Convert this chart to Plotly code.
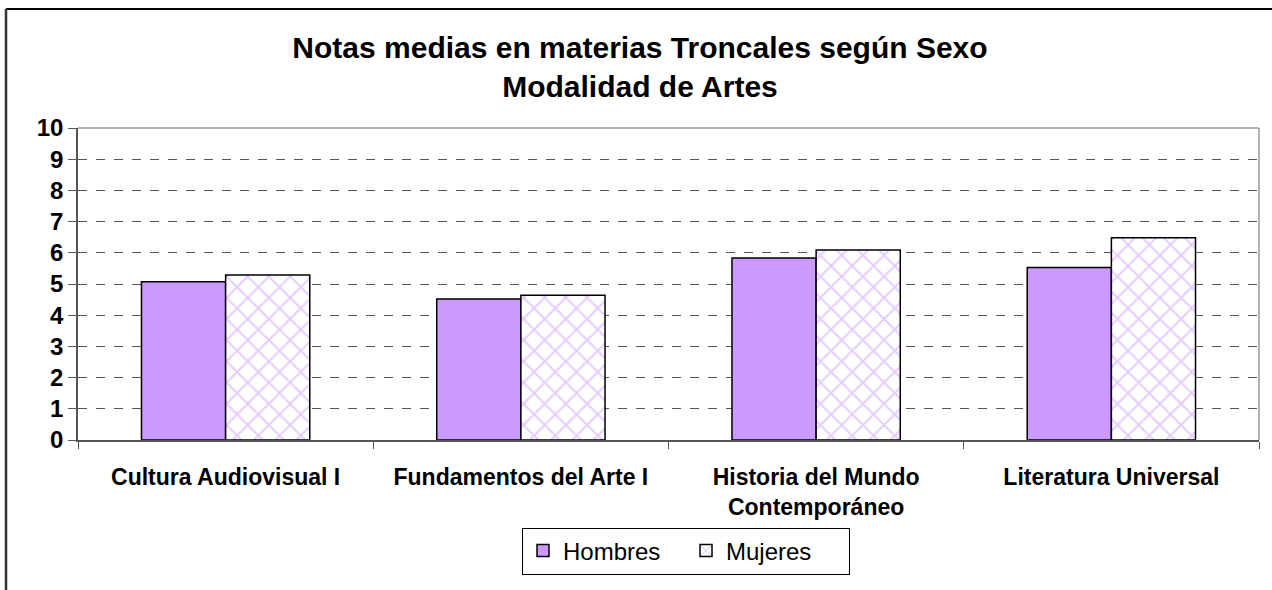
import plotly.graph_objects as go

categories = ["Cultura Audiovisual I", "Fundamentos del Arte I",
              "Historia del Mundo<br>Contemporáneo", "Literatura Universal"]
hombres = [5.07, 4.52, 5.83, 5.53]
mujeres = [5.29, 4.64, 6.09, 6.48]
y_ticks = list(range(0, 11))

W, H = 1272, 590
L, R, T, B = 78, 1259, 128, 440   # plot area in pixels
pw, ph = R - L, B - T

def px_x(v):
    return (v - L) / pw

def px_y(v):
    return (B - v) / ph

purple = "#CC99FF"
font_family = "Liberation Sans, Arial, sans-serif"

fig = go.Figure()
fig.add_trace(go.Bar(
    name="Hombres", x=categories, y=hombres,
    marker=dict(color=purple, line=dict(color="black", width=1.5)),
))
fig.add_trace(go.Bar(
    name="Mujeres", x=categories, y=mujeres,
    marker=dict(color="white", line=dict(color="black", width=1.5),
                pattern=dict(shape="x", fgcolor=purple, bgcolor="white",
                             size=15, solidity=0.25)),
))

fig.update_layout(
    width=W, height=H,
    margin=dict(l=L, r=W - R, t=T, b=H - B, pad=0),
    paper_bgcolor="white", plot_bgcolor="white",
    barmode="group", bargap=0.43, bargroupgap=0,
    font=dict(family=font_family, color="black"),
    title=dict(text="<b>Notas medias en materias Troncales según Sexo<br>Modalidad de Artes</b>",
               x=640 / W, xanchor="center", xref="container",
               y=1 - 58 / H, yanchor="middle",
               font=dict(size=30, family=font_family, color="black")),
    showlegend=True,
    legend=dict(orientation="h", x=px_x(686), y=px_y(551),
                xanchor="center", yanchor="middle",
                bordercolor="black", borderwidth=1, bgcolor="white",
                font=dict(size=24, family=font_family, color="black"),
                itemwidth=30, entrywidth=118, traceorder="normal"),
    xaxis=dict(
        showline=True, linecolor="#555555", linewidth=1.5, mirror=False,
        ticks="outside", tickson="boundaries", ticklen=7, tickcolor="#555555",
        tickfont=dict(size=23, family=font_family, color="black", weight="bold"),
        ticklabelstandoff=16, showgrid=False,
    ),
    yaxis=dict(
        range=[0, 10], tickvals=y_ticks, ticktext=[str(t) for t in y_ticks],
        showline=True, linecolor="#555555", linewidth=1.5,
        ticks="outside", ticklen=8, tickcolor="#555555",
        tickfont=dict(size=24, family=font_family, color="black", weight="bold"),
        showgrid=True, gridcolor="#555555", gridwidth=1, griddash="dash",
        zeroline=False,
    ),
    shapes=[
        # plot area frame (top and right edges)
        dict(type="line", xref="paper", yref="paper", x0=0, x1=1, y0=1, y1=1,
             line=dict(color="#999999", width=1.5), layer="below"),
        dict(type="line", xref="paper", yref="paper", x0=1, x1=1, y0=0, y1=1,
             line=dict(color="#999999", width=1.5), layer="below"),
        # outer chart border
        dict(type="line", xref="paper", yref="paper",
             x0=px_x(6), x1=px_x(W + 5), y0=px_y(9), y1=px_y(9),
             line=dict(color="black", width=2)),
        dict(type="line", xref="paper", yref="paper",
             x0=px_x(6), x1=px_x(6), y0=px_y(9), y1=px_y(H + 5),
             line=dict(color="#333333", width=2.5)),
    ],
)

fig.write_html("out.html")
